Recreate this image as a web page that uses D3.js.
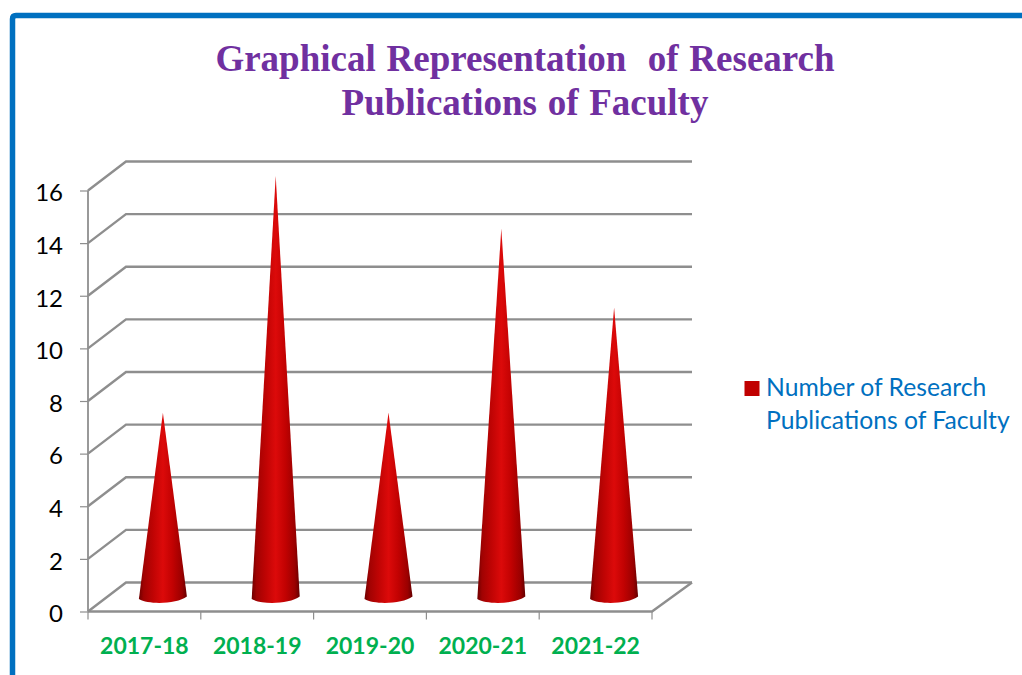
<!DOCTYPE html>
<html>
<head>
<meta charset="utf-8">
<script src="https://cdn.jsdelivr.net/npm/d3@7"></script>
<style>
html, body { margin: 0; padding: 0; background: #fff; overflow: hidden; }
svg { display: block; }
</style>
</head>
<body>
<svg id="chart" width="1022" height="675"></svg>
<script>
var categories = ['2017-18', '2018-19', '2019-20', '2020-21', '2021-22'];
var publications = [7, 16, 7, 14, 11];
var yTicks = [0, 2, 4, 6, 8, 10, 12, 14, 16];
var titleLines = ['Graphical Representation  of Research', 'Publications of Faculty'];
var legendLines = ['Number of Research', 'Publications of Faculty'];

var svg = d3.select('#chart');
var labelFont = 'Lato, sans-serif';
var gridColor = '#8e8e8e';

// blue frame, runs off the right and bottom of the picture
svg.append('path')
    .attr('d', 'M12.5,690V19Q12.5,15.5 16,15.5H1040')
    .attr('fill', 'none')
    .attr('stroke', '#0070c0')
    .attr('stroke-width', 5.5);

svg.append('g').selectAll('text')
    .data(titleLines)
    .join('text')
    .attr('x', 525)
    .attr('y', function(d, i) { return 70.5 + i * 44; })
    .attr('text-anchor', 'middle')
    .attr('xml:space', 'preserve')
    .style('white-space', 'pre')
    .style('word-spacing', '1.5px')
    .attr('font-family', '"Liberation Serif", serif')
    .attr('font-weight', 'bold')
    .attr('font-size', 37)
    .attr('fill', '#7030a0')
    .text(function(d) { return d; });

var x = d3.scaleBand().domain(categories).range([88, 652]);
var y = d3.scaleLinear().domain([0, 16]).range([611.5, 190.5]);
var depthX = 38, depthY = -29;
var backRight = x.range()[1] + depthX + 2;

// floor and wall lines
var grid = svg.append('g').attr('fill', 'none').attr('stroke', gridColor);
grid.selectAll('path')
    .data(yTicks)
    .join('path')
    .attr('stroke-width', 2.4)
    .attr('d', function(d) {
        var p = d3.path();
        p.moveTo(x.range()[0], y(d));
        p.lineTo(x.range()[0] + depthX, y(d) + depthY);
        p.lineTo(backRight, y(d) + depthY);
        return p.toString();
    });
grid.append('path')
    .attr('stroke-width', 2.4)
    .attr('d', function() {
        var p = d3.path();
        p.moveTo(backRight, y(0) + depthY);
        p.lineTo(x.range()[1], y(0));
        p.lineTo(x.range()[0], y(0));
        return p.toString();
    });

var yAxis = d3.axisLeft(y).tickValues(yTicks).tickSize(8).tickPadding(17);
var yAxisG = svg.append('g').attr('transform', 'translate(88,0)').call(yAxis);
yAxisG.select('.domain').attr('stroke', gridColor).attr('stroke-width', 1.8).attr('d', 'M0,' + y(16) + 'V' + y(0));
yAxisG.selectAll('.tick line').attr('stroke', gridColor).attr('stroke-width', 1.2);
yAxisG.selectAll('.tick text')
    .attr('font-family', labelFont)
    .attr('font-size', 24)
    .attr('dy', '0.43em')
    .attr('fill', '#000');

// x ticks sit on the band edges, labels in the middle
var edges = categories.map(function(d) { return x(d); }).concat([x.range()[1]]);
svg.append('g').selectAll('line')
    .data(edges)
    .join('line')
    .attr('x1', function(d) { return d; })
    .attr('x2', function(d) { return d; })
    .attr('y1', y(0))
    .attr('y2', y(0) + 8)
    .attr('stroke', gridColor)
    .attr('stroke-width', 1.2);

var xAxis = d3.axisBottom(x).tickSize(0).tickPadding(26);
var xAxisG = svg.append('g').attr('transform', 'translate(0,' + y(0) + ')').call(xAxis);
xAxisG.select('.domain').remove();
xAxisG.selectAll('.tick text')
    .attr('font-family', labelFont)
    .attr('font-weight', 'bold')
    .attr('font-size', 23)
    .attr('fill', '#00b050');

// cones
var defs = svg.append('defs');
var coneGrad = defs.append('linearGradient').attr('id', 'cone').attr('x1', 0).attr('x2', 1).attr('y1', 0).attr('y2', 0);
[[0, '#6e0000'], [0.1, '#a00202'], [0.3, '#c00404'], [0.5, '#dc0a0a'], [0.7, '#c20202'], [0.9, '#9a0000'], [1, '#640000']]
    .forEach(function(s) {
        coneGrad.append('stop').attr('offset', s[0]).attr('stop-color', s[1]);
    });

var coneHalf = 24;
var cones = svg.append('g');
cones.selectAll('path')
    .data(publications)
    .join('path')
    .attr('fill', 'url(#cone)')
    .attr('d', function(d, i) {
        var cx = x(categories[i]) + x.bandwidth() / 2 + depthX / 2 - 0.5;
        var cy = y(0) + depthY / 2;
        var p = d3.path();
        p.moveTo(cx, y(d) + depthY / 2);
        p.lineTo(cx + coneHalf, cy - 0.5);
        p.bezierCurveTo(cx + 14, cy + 7, cx - 14, cy + 8, cx - coneHalf, cy + 2);
        p.closePath();
        return p.toString();
    });

// legend
svg.append('rect')
    .attr('x', 744.5)
    .attr('y', 381)
    .attr('width', 15)
    .attr('height', 15)
    .attr('fill', '#c00000');
svg.append('g').selectAll('text')
    .data(legendLines)
    .join('text')
    .attr('x', 766)
    .attr('y', function(d, i) { return 396 + i * 33; })
    .attr('font-family', labelFont)
    .attr('font-size', 24.7)
    .attr('fill', '#0070c0')
    .text(function(d) { return d; });
</script>
</body>
</html>
